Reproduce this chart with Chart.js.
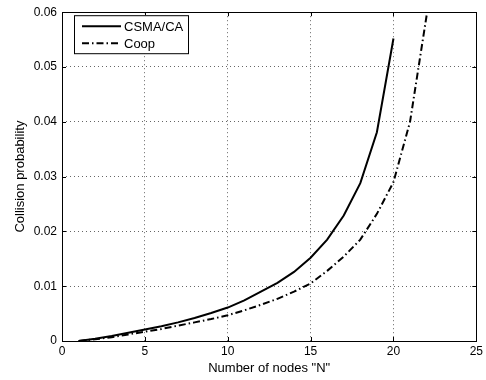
<!DOCTYPE html>
<html>
<head>
<meta charset="utf-8">
<script src="https://cdn.jsdelivr.net/npm/chart.js@4/dist/chart.umd.min.js"></script>
<style>
  html, body { margin: 0; padding: 0; background: #fff; }
  #wrap { width: 486px; height: 380px; }
</style>
</head>
<body>
<div id="wrap"><canvas id="chart" width="486" height="380"></canvas></div>
<script>
const nodesCsma = [1, 2, 3, 4, 5, 6, 7, 8, 9, 10, 11, 12, 13, 14, 15, 16, 17, 18, 19, 20];
const csmaValues = [0, 0.0004, 0.0009, 0.0015, 0.0021, 0.0027, 0.0034, 0.0042, 0.0051, 0.0061,
    0.0074, 0.0090, 0.0106, 0.0126, 0.0152, 0.0185, 0.0229, 0.0288, 0.0381, 0.0552];
const nodesCoop = [1, 2, 3, 4, 5, 6, 7, 8, 9, 10, 11, 12, 13, 14, 15, 16, 17, 18, 19, 20, 21, 22];
const coopValues = [0, 0.0003, 0.0007, 0.0012, 0.0017, 0.0022, 0.0028, 0.0034, 0.0040, 0.0047,
    0.0056, 0.0066, 0.0077, 0.0090, 0.0105, 0.0128, 0.0154, 0.0185, 0.0232, 0.0290, 0.0400, 0.0594];
const seriesNames = ['CSMA/CA', 'Coop'];
const xTicks = [0, 5, 10, 15, 20, 25];
const yTicks = [0, 0.01, 0.02, 0.03, 0.04, 0.05, 0.06];

const FONT = 'Liberation Sans, Arial, Helvetica, sans-serif';
const COOP_DASH = [7, 3, 1.5, 3];

// box, inward tick marks and legend drawn like a matlab figure
const framePlugin = {
    id: 'frame',
    afterDatasetsDraw(chart) {
        const { ctx, chartArea: a, scales } = chart;
        ctx.save();
        ctx.strokeStyle = '#000';
        ctx.lineWidth = 1;
        ctx.beginPath();
        xTicks.forEach(v => {
            const px = Math.round(scales.x.getPixelForValue(v)) + 0.5;
            ctx.moveTo(px, a.bottom); ctx.lineTo(px, a.bottom - 4);
            ctx.moveTo(px, a.top); ctx.lineTo(px, a.top + 4);
        });
        yTicks.forEach(v => {
            const py = Math.round(scales.y.getPixelForValue(v)) + 0.5;
            ctx.moveTo(a.left, py); ctx.lineTo(a.left + 4, py);
            ctx.moveTo(a.right, py); ctx.lineTo(a.right - 4, py);
        });
        ctx.stroke();
        ctx.strokeRect(Math.round(a.left) + 0.5, Math.round(a.top) + 0.5,
            Math.round(a.right - a.left), Math.round(a.bottom - a.top));

        // legend
        const lx = a.left + 12, ly = a.top + 3, lw = 114, lh = 38;
        ctx.fillStyle = '#fff';
        ctx.fillRect(lx, ly, lw, lh);
        ctx.strokeRect(lx + 0.5, ly + 0.5, lw, lh);
        ctx.font = '13px ' + FONT;
        ctx.textBaseline = 'middle';
        chart.data.datasets.forEach((ds, i) => {
            const yy = ly + 11 + i * 17;
            ctx.save();
            ctx.lineWidth = ds.borderWidth;
            ctx.setLineDash(ds.borderDash || []);
            ctx.beginPath();
            ctx.moveTo(lx + 8, yy); ctx.lineTo(lx + 47, yy);
            ctx.stroke();
            ctx.restore();
            ctx.fillStyle = '#000';
            ctx.fillText(ds.label, lx + 50, yy + 1);
        });
        ctx.restore();
    }
};

new Chart(document.getElementById('chart'), {
    type: 'line',
    data: {
        datasets: [
            {
                label: seriesNames[0],
                data: nodesCsma.map((n, i) => ({ x: n, y: csmaValues[i] })),
                borderColor: '#000',
                borderWidth: 2,
                pointRadius: 0,
                tension: 0,
                fill: false
            },
            {
                label: seriesNames[1],
                data: nodesCoop.map((n, i) => ({ x: n, y: coopValues[i] })),
                borderColor: '#000',
                borderWidth: 2,
                borderDash: COOP_DASH,
                pointRadius: 0,
                tension: 0,
                fill: false
            }
        ]
    },
    options: {
        responsive: false,
        animation: false,
        clip: false,
        layout: { padding: { top: 11, right: 9, left: 0, bottom: 0 } },
        plugins: { legend: { display: false }, tooltip: { enabled: false } },
        scales: {
            x: {
                type: 'linear',
                min: 0,
                max: 25,
                afterBuildTicks: s => { s.ticks = xTicks.map(v => ({ value: v })); },
                afterFit: s => { s.height = 39; },
                border: { display: false, dash: [1, 3] },
                grid: { color: '#666', drawTicks: false, lineWidth: 1 },
                ticks: { color: '#000', padding: 3, font: { family: FONT, size: 12 }, maxRotation: 0 },
                title: {
                    display: true,
                    text: 'Number of nodes "N"',
                    color: '#000',
                    font: { family: FONT, size: 13 },
                    padding: { top: 0, bottom: 4 }
                }
            },
            y: {
                type: 'linear',
                min: 0,
                max: 0.06,
                afterBuildTicks: s => { s.ticks = yTicks.map(v => ({ value: v })); },
                afterFit: s => { s.width = 62; },
                border: { display: false, dash: [1, 3] },
                grid: { color: '#666', drawTicks: false, lineWidth: 1 },
                ticks: {
                    color: '#000',
                    padding: 5,
                    font: { family: FONT, size: 12 },
                    callback: v => v === 0 ? '0' : Number(v).toFixed(2)
                },
                title: {
                    display: true,
                    text: 'Collision probability',
                    color: '#000',
                    font: { family: FONT, size: 13 },
                    padding: { top: 13, bottom: 0 }
                }
            }
        }
    },
    plugins: [framePlugin, {
        id: 'whiteBg',
        beforeDraw(chart) {
            const ctx = chart.ctx;
            ctx.save();
            ctx.fillStyle = '#fff';
            ctx.fillRect(0, 0, chart.width, chart.height);
            ctx.restore();
        }
    }]
});
</script>
</body>
</html>
